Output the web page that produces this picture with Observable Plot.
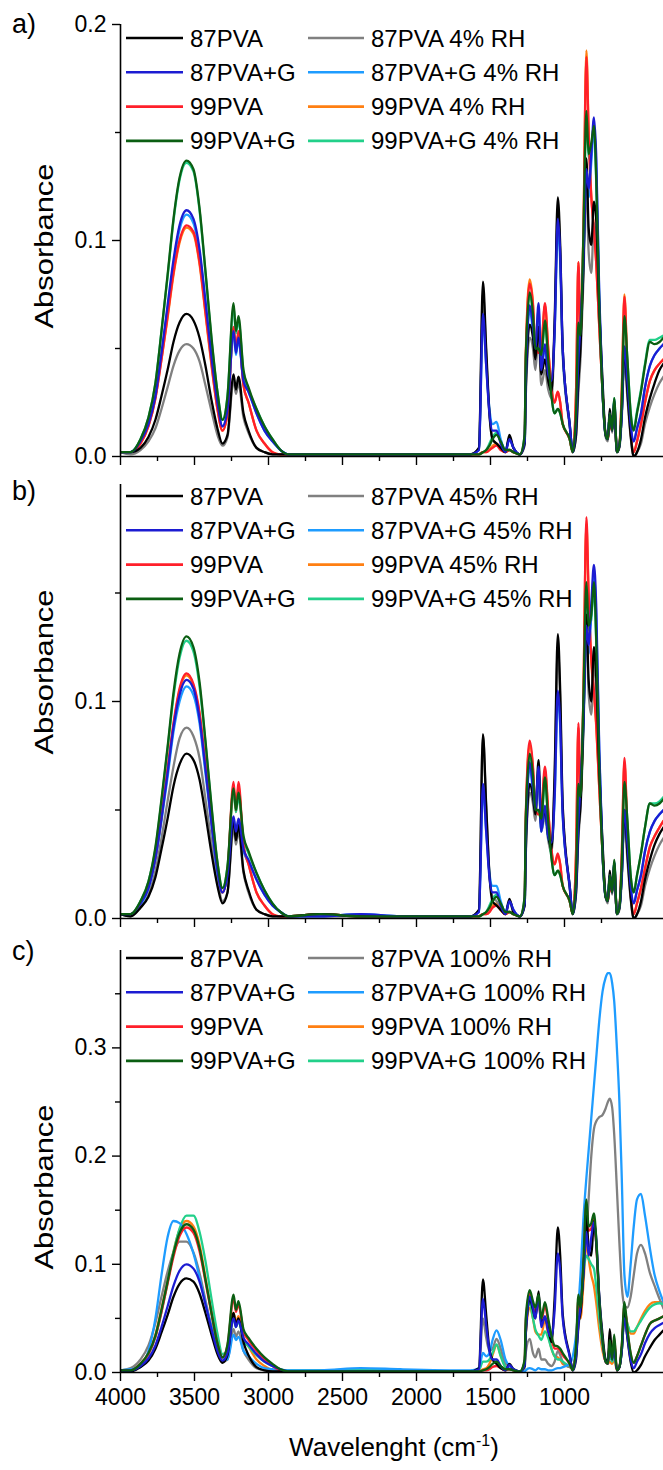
<!DOCTYPE html>
<html><head><meta charset="utf-8">
<script src="https://cdn.jsdelivr.net/npm/d3@7"></script>
<script src="https://cdn.jsdelivr.net/npm/@observablehq/plot@0.6"></script>
<style>
body{margin:0;background:#fff;}
#wrap{position:relative;width:663px;height:1470px;overflow:hidden;font-family:"Liberation Sans",Arial,sans-serif;}
#wrap > svg, #wrap > figure{position:absolute;left:0;margin:0;}
</style></head><body><div id="wrap"></div>
<script>
// Wavenumber grid (cm^-1), as read against the figure's own x axis
const wn = [4000,3932,3865,3811,3764,3723,3682,3642,3601,3554,
3507,3466,3426,3385,3345,3311,3277,3236,3220,3203,
3169,3135,3081,3027,2973,2919,2865,2649,2378,2108,
1637,1578,1551,1529,1507,1486,1459,1431,1399,1372,
1345,1301,1269,1262,1235,1213,1197,1175,1157,1132,
1110,1088,1067,1045,1029,1012,965,944,922,906,
892,873,852,837,819,801,786,765,743,722,
707,694,678,664,646,629,613,595,575,553,
532,510,483,456,423,391,358,331];

const names = ["87PVA","87PVA+G","99PVA","99PVA+G"];
const rhLabels = ["4% RH","45% RH","100% RH"];
const xMajor = [4000,3500,3000,2500,2000,1500,1000];
const xMinor = [3750,3250,2750,2250,1750,1250,750];

// ---- panel a) ----
const A_87PVA = [0.002,0.002,0.004,0.009,0.017,0.028,0.040,0.053,0.062,0.066,
0.063,0.055,0.042,0.026,0.013,0.006,0.010,0.038,0.031,0.037,
0.020,0.012,0.004,0.002,0.001,0.001,0.001,0.001,0.001,0.001,
0.001,0.004,0.081,0.050,0.020,0.008,0.006,0.004,0.002,0.010,
0.004,0.001,0.006,0.030,0.061,0.055,0.045,0.060,0.038,0.045,
0.035,0.030,0.062,0.120,0.098,0.050,0.015,0.002,0.010,0.035,
0.050,0.085,0.138,0.106,0.098,0.118,0.110,0.068,0.035,0.010,
0.008,0.022,0.012,0.024,0.002,0.005,0.020,0.050,0.030,0.010,
0.000,0.002,0.008,0.018,0.027,0.034,0.040,0.043];
const A_87PVA_G = [0.002,0.002,0.007,0.015,0.028,0.048,0.070,0.091,0.107,0.114,
0.110,0.096,0.072,0.046,0.025,0.014,0.022,0.058,0.048,0.055,
0.035,0.030,0.020,0.012,0.007,0.003,0.001,0.001,0.001,0.001,
0.001,0.003,0.066,0.042,0.020,0.012,0.012,0.006,0.002,0.008,
0.004,0.001,0.007,0.035,0.070,0.060,0.050,0.071,0.040,0.052,
0.038,0.035,0.058,0.110,0.094,0.050,0.015,0.002,0.015,0.045,
0.060,0.090,0.133,0.124,0.140,0.157,0.140,0.075,0.030,0.010,
0.008,0.020,0.012,0.026,0.002,0.005,0.020,0.051,0.035,0.015,
0.007,0.013,0.020,0.032,0.042,0.047,0.050,0.052];
const A_99PVA = [0.002,0.002,0.006,0.014,0.027,0.045,0.065,0.085,0.100,0.107,
0.104,0.090,0.067,0.043,0.022,0.012,0.020,0.060,0.050,0.058,
0.033,0.025,0.012,0.006,0.002,0.001,0.001,0.001,0.001,0.001,
0.001,0.001,0.002,0.002,0.003,0.004,0.005,0.003,0.002,0.003,
0.002,0.001,0.008,0.045,0.080,0.070,0.050,0.048,0.050,0.071,
0.050,0.032,0.025,0.030,0.025,0.015,0.008,0.002,0.030,0.090,
0.055,0.100,0.185,0.150,0.120,0.105,0.090,0.060,0.030,0.010,
0.008,0.015,0.012,0.025,0.002,0.005,0.030,0.074,0.040,0.012,
0.002,0.007,0.015,0.025,0.035,0.040,0.043,0.045];
const A_99PVA_G = [0.002,0.002,0.008,0.018,0.034,0.058,0.084,0.110,0.129,0.137,
0.133,0.115,0.086,0.055,0.030,0.017,0.028,0.071,0.058,0.065,
0.040,0.032,0.022,0.014,0.008,0.003,0.001,0.001,0.001,0.001,
0.001,0.001,0.002,0.003,0.005,0.008,0.010,0.007,0.003,0.003,
0.002,0.001,0.010,0.045,0.076,0.066,0.050,0.050,0.047,0.063,
0.045,0.028,0.020,0.022,0.020,0.015,0.008,0.002,0.020,0.062,
0.056,0.100,0.160,0.140,0.145,0.153,0.130,0.070,0.030,0.010,
0.008,0.020,0.012,0.027,0.002,0.005,0.025,0.065,0.045,0.020,
0.012,0.020,0.030,0.042,0.053,0.052,0.053,0.055];
const A_87PVA_RH = [0.002,0.001,0.003,0.007,0.013,0.022,0.032,0.042,0.049,0.052,
0.050,0.044,0.033,0.021,0.010,0.005,0.009,0.035,0.029,0.034,
0.018,0.011,0.004,0.002,0.001,0.001,0.001,0.001,0.001,0.001,
0.001,0.004,0.076,0.047,0.019,0.008,0.006,0.004,0.002,0.009,
0.004,0.001,0.005,0.027,0.055,0.050,0.040,0.056,0.033,0.040,
0.031,0.027,0.058,0.115,0.094,0.047,0.014,0.002,0.009,0.030,
0.045,0.080,0.128,0.095,0.085,0.108,0.100,0.062,0.032,0.009,
0.007,0.020,0.011,0.022,0.002,0.004,0.018,0.045,0.027,0.009,
0.000,0.002,0.006,0.015,0.023,0.029,0.034,0.037];
const A_87PVA_G_RH = [0.002,0.002,0.007,0.015,0.028,0.047,0.068,0.089,0.105,0.112,
0.108,0.094,0.071,0.045,0.024,0.014,0.022,0.057,0.047,0.054,
0.035,0.030,0.020,0.012,0.007,0.003,0.001,0.001,0.001,0.001,
0.001,0.003,0.064,0.042,0.022,0.015,0.016,0.008,0.003,0.008,
0.004,0.001,0.007,0.034,0.068,0.058,0.050,0.068,0.042,0.050,
0.037,0.034,0.056,0.105,0.090,0.048,0.015,0.002,0.014,0.040,
0.058,0.088,0.130,0.120,0.136,0.152,0.136,0.073,0.030,0.010,
0.008,0.020,0.012,0.026,0.002,0.005,0.020,0.050,0.034,0.015,
0.007,0.013,0.020,0.032,0.042,0.047,0.050,0.052];
const A_99PVA_RH = [0.002,0.002,0.006,0.014,0.027,0.045,0.064,0.084,0.099,0.106,
0.103,0.089,0.066,0.042,0.022,0.012,0.020,0.059,0.049,0.057,
0.033,0.025,0.012,0.006,0.002,0.001,0.001,0.001,0.001,0.001,
0.001,0.001,0.002,0.002,0.003,0.005,0.006,0.004,0.002,0.003,
0.002,0.001,0.008,0.046,0.082,0.071,0.051,0.049,0.051,0.070,
0.050,0.032,0.025,0.030,0.025,0.015,0.008,0.002,0.030,0.090,
0.055,0.102,0.188,0.152,0.121,0.105,0.090,0.060,0.030,0.010,
0.008,0.015,0.012,0.025,0.002,0.005,0.031,0.075,0.041,0.012,
0.002,0.007,0.015,0.025,0.035,0.040,0.043,0.045];
const A_99PVA_G_RH = [0.002,0.002,0.008,0.018,0.034,0.058,0.083,0.109,0.128,0.136,
0.132,0.114,0.085,0.054,0.030,0.017,0.028,0.069,0.057,0.063,
0.039,0.031,0.022,0.014,0.008,0.003,0.001,0.001,0.001,0.001,
0.001,0.001,0.002,0.003,0.006,0.009,0.011,0.007,0.003,0.003,
0.002,0.001,0.010,0.044,0.074,0.065,0.050,0.050,0.046,0.062,
0.044,0.028,0.020,0.022,0.020,0.015,0.008,0.002,0.020,0.060,
0.055,0.098,0.158,0.138,0.143,0.151,0.128,0.069,0.030,0.010,
0.008,0.020,0.012,0.027,0.002,0.005,0.025,0.064,0.045,0.021,
0.013,0.021,0.031,0.043,0.054,0.054,0.055,0.056];

// ---- panel b) ----
const B_87PVA = [0.002,0.001,0.005,0.010,0.019,0.032,0.046,0.061,0.071,0.076,
0.073,0.064,0.048,0.030,0.015,0.007,0.012,0.045,0.036,0.043,
0.022,0.013,0.004,0.002,0.001,0.001,0.001,0.002,0.001,0.001,
0.001,0.004,0.085,0.052,0.020,0.008,0.006,0.004,0.002,0.009,
0.003,0.001,0.006,0.030,0.062,0.056,0.048,0.073,0.042,0.050,
0.038,0.032,0.066,0.131,0.105,0.052,0.015,0.002,0.012,0.040,
0.052,0.088,0.140,0.110,0.100,0.125,0.112,0.068,0.035,0.010,
0.008,0.022,0.012,0.024,0.002,0.005,0.020,0.050,0.030,0.010,
0.000,0.002,0.008,0.018,0.027,0.034,0.039,0.042];
const B_87PVA_G = [0.002,0.002,0.007,0.014,0.028,0.046,0.067,0.088,0.103,0.110,
0.106,0.092,0.069,0.044,0.022,0.012,0.020,0.047,0.040,0.046,
0.032,0.027,0.018,0.011,0.006,0.003,0.001,0.001,0.002,0.001,
0.001,0.003,0.062,0.040,0.019,0.012,0.012,0.006,0.002,0.008,
0.004,0.001,0.007,0.035,0.072,0.060,0.050,0.070,0.040,0.052,
0.038,0.035,0.056,0.105,0.090,0.048,0.015,0.002,0.015,0.045,
0.060,0.090,0.135,0.126,0.145,0.163,0.145,0.078,0.030,0.010,
0.008,0.020,0.012,0.026,0.002,0.005,0.020,0.050,0.035,0.015,
0.007,0.013,0.020,0.031,0.040,0.045,0.048,0.050];
const B_99PVA = [0.002,0.002,0.007,0.015,0.028,0.047,0.069,0.090,0.106,0.113,
0.108,0.095,0.071,0.045,0.023,0.012,0.022,0.063,0.050,0.063,
0.034,0.025,0.012,0.006,0.002,0.001,0.001,0.002,0.001,0.001,
0.001,0.001,0.002,0.002,0.003,0.005,0.006,0.004,0.002,0.003,
0.002,0.001,0.008,0.046,0.082,0.070,0.050,0.048,0.050,0.070,
0.050,0.032,0.025,0.030,0.025,0.015,0.008,0.002,0.030,0.090,
0.055,0.100,0.185,0.150,0.120,0.105,0.090,0.060,0.030,0.010,
0.008,0.015,0.012,0.025,0.002,0.005,0.030,0.074,0.040,0.012,
0.002,0.007,0.014,0.023,0.033,0.038,0.042,0.045];
const B_99PVA_G = [0.002,0.002,0.008,0.017,0.033,0.055,0.079,0.104,0.122,0.130,
0.125,0.109,0.082,0.052,0.026,0.014,0.024,0.060,0.050,0.058,
0.038,0.031,0.021,0.013,0.007,0.003,0.001,0.002,0.001,0.001,
0.001,0.001,0.002,0.003,0.005,0.008,0.010,0.007,0.003,0.003,
0.002,0.001,0.010,0.045,0.076,0.066,0.050,0.050,0.046,0.065,
0.045,0.028,0.020,0.022,0.020,0.015,0.008,0.002,0.020,0.062,
0.056,0.098,0.155,0.135,0.140,0.155,0.130,0.070,0.030,0.010,
0.008,0.020,0.012,0.027,0.002,0.005,0.025,0.063,0.045,0.020,
0.012,0.020,0.030,0.042,0.053,0.052,0.053,0.055];
const B_87PVA_RH = [0.002,0.001,0.005,0.011,0.022,0.037,0.054,0.070,0.083,0.088,
0.084,0.074,0.055,0.035,0.018,0.008,0.012,0.042,0.034,0.040,
0.021,0.012,0.004,0.002,0.001,0.001,0.001,0.001,0.001,0.001,
0.001,0.004,0.084,0.051,0.021,0.010,0.008,0.005,0.002,0.008,
0.003,0.001,0.006,0.028,0.058,0.053,0.045,0.068,0.040,0.047,
0.036,0.030,0.063,0.125,0.100,0.050,0.014,0.002,0.011,0.037,
0.050,0.084,0.133,0.104,0.094,0.118,0.106,0.064,0.033,0.010,
0.007,0.020,0.011,0.022,0.002,0.004,0.018,0.046,0.027,0.009,
0.000,0.002,0.006,0.015,0.023,0.029,0.034,0.037];
const B_87PVA_G_RH = [0.002,0.002,0.006,0.014,0.027,0.045,0.065,0.086,0.100,0.107,
0.103,0.090,0.067,0.043,0.021,0.012,0.020,0.046,0.039,0.045,
0.031,0.026,0.018,0.011,0.006,0.003,0.001,0.001,0.002,0.001,
0.001,0.003,0.060,0.040,0.021,0.015,0.015,0.008,0.003,0.008,
0.004,0.001,0.007,0.034,0.070,0.058,0.049,0.068,0.040,0.050,
0.037,0.034,0.054,0.102,0.088,0.047,0.015,0.002,0.014,0.042,
0.058,0.088,0.132,0.122,0.140,0.158,0.140,0.076,0.030,0.010,
0.008,0.020,0.012,0.026,0.002,0.005,0.020,0.049,0.034,0.015,
0.007,0.013,0.020,0.031,0.040,0.045,0.048,0.050];
const B_99PVA_RH = [0.002,0.002,0.007,0.015,0.028,0.047,0.068,0.089,0.105,0.112,
0.107,0.094,0.070,0.045,0.023,0.012,0.021,0.061,0.049,0.061,
0.033,0.025,0.012,0.006,0.002,0.001,0.001,0.002,0.001,0.001,
0.001,0.001,0.002,0.002,0.003,0.006,0.007,0.004,0.002,0.003,
0.002,0.001,0.008,0.045,0.080,0.069,0.050,0.048,0.049,0.068,
0.049,0.031,0.025,0.029,0.025,0.015,0.008,0.002,0.030,0.088,
0.055,0.100,0.182,0.148,0.118,0.104,0.089,0.060,0.030,0.010,
0.008,0.015,0.012,0.025,0.002,0.005,0.029,0.072,0.040,0.012,
0.002,0.007,0.014,0.023,0.033,0.038,0.042,0.045];
const B_99PVA_G_RH = [0.002,0.002,0.008,0.017,0.032,0.054,0.078,0.102,0.120,0.128,
0.123,0.107,0.081,0.051,0.026,0.014,0.024,0.058,0.049,0.056,
0.037,0.030,0.021,0.013,0.007,0.003,0.001,0.002,0.001,0.001,
0.001,0.001,0.002,0.003,0.006,0.009,0.011,0.007,0.003,0.003,
0.002,0.001,0.010,0.044,0.074,0.065,0.049,0.049,0.045,0.063,
0.044,0.028,0.020,0.022,0.020,0.015,0.008,0.002,0.020,0.060,
0.055,0.096,0.152,0.133,0.138,0.152,0.128,0.069,0.030,0.010,
0.008,0.020,0.012,0.026,0.002,0.005,0.025,0.062,0.045,0.020,
0.012,0.020,0.030,0.042,0.053,0.053,0.054,0.056];

// ---- panel c) ----
const C_87PVA = [0.002,0.001,0.005,0.011,0.022,0.037,0.053,0.070,0.082,0.087,
0.084,0.073,0.055,0.035,0.017,0.009,0.016,0.055,0.044,0.050,
0.028,0.016,0.005,0.002,0.001,0.001,0.001,0.001,0.001,0.001,
0.001,0.004,0.086,0.053,0.021,0.012,0.008,0.004,0.002,0.008,
0.003,0.001,0.006,0.034,0.068,0.058,0.050,0.075,0.045,0.051,
0.040,0.028,0.068,0.134,0.108,0.054,0.016,0.002,0.012,0.045,
0.055,0.090,0.145,0.115,0.108,0.140,0.120,0.070,0.035,0.012,
0.010,0.040,0.015,0.028,0.002,0.005,0.020,0.055,0.032,0.010,
0.000,0.002,0.007,0.015,0.023,0.030,0.035,0.039];
const C_87PVA_G = [0.002,0.002,0.006,0.013,0.025,0.042,0.061,0.080,0.094,0.100,
0.096,0.084,0.063,0.040,0.020,0.011,0.018,0.050,0.042,0.048,
0.032,0.026,0.017,0.010,0.006,0.003,0.001,0.001,0.001,0.001,
0.001,0.003,0.068,0.043,0.020,0.012,0.012,0.006,0.002,0.007,
0.003,0.001,0.007,0.035,0.070,0.060,0.050,0.071,0.042,0.052,
0.038,0.033,0.057,0.110,0.094,0.050,0.015,0.002,0.015,0.045,
0.060,0.090,0.130,0.108,0.125,0.139,0.125,0.070,0.030,0.010,
0.008,0.025,0.012,0.024,0.002,0.005,0.020,0.050,0.033,0.012,
0.004,0.010,0.017,0.027,0.036,0.041,0.044,0.046];
const C_99PVA = [0.002,0.002,0.008,0.017,0.033,0.056,0.082,0.107,0.126,0.134,
0.129,0.112,0.084,0.054,0.027,0.014,0.025,0.068,0.056,0.063,
0.038,0.030,0.020,0.012,0.006,0.002,0.001,0.001,0.001,0.001,
0.001,0.001,0.002,0.002,0.003,0.005,0.006,0.004,0.002,0.003,
0.002,0.001,0.010,0.046,0.073,0.063,0.055,0.066,0.047,0.062,
0.047,0.031,0.022,0.022,0.020,0.016,0.008,0.002,0.022,0.068,
0.057,0.097,0.155,0.131,0.133,0.142,0.121,0.066,0.030,0.010,
0.008,0.027,0.012,0.032,0.002,0.005,0.024,0.062,0.039,0.017,
0.009,0.015,0.025,0.035,0.045,0.048,0.050,0.052];
const C_99PVA_G = [0.002,0.002,0.008,0.018,0.034,0.058,0.084,0.110,0.129,0.137,
0.132,0.115,0.086,0.055,0.027,0.014,0.026,0.072,0.058,0.066,
0.040,0.032,0.022,0.014,0.008,0.003,0.001,0.001,0.001,0.001,
0.001,0.001,0.002,0.003,0.005,0.008,0.010,0.006,0.003,0.003,
0.002,0.001,0.012,0.050,0.076,0.066,0.060,0.072,0.050,0.065,
0.050,0.034,0.025,0.024,0.022,0.018,0.008,0.002,0.025,0.072,
0.060,0.100,0.160,0.135,0.138,0.147,0.125,0.068,0.030,0.010,
0.008,0.030,0.012,0.035,0.002,0.005,0.025,0.065,0.040,0.018,
0.009,0.015,0.025,0.035,0.045,0.048,0.050,0.052];
const C_87PVA_RH = [0.002,0.004,0.012,0.025,0.046,0.070,0.093,0.111,0.121,0.121,
0.111,0.092,0.067,0.042,0.021,0.010,0.012,0.040,0.033,0.038,
0.020,0.012,0.004,0.002,0.001,0.001,0.001,0.002,0.002,0.001,
0.001,0.003,0.050,0.032,0.020,0.022,0.031,0.022,0.008,0.006,
0.003,0.001,0.004,0.018,0.031,0.018,0.014,0.022,0.012,0.012,
0.008,0.006,0.010,0.020,0.016,0.010,0.005,0.006,0.020,0.040,
0.065,0.100,0.125,0.160,0.200,0.225,0.232,0.236,0.238,0.244,
0.250,0.253,0.245,0.220,0.170,0.120,0.080,0.062,0.060,0.070,
0.090,0.110,0.118,0.110,0.092,0.080,0.068,0.059];
const C_87PVA_G_RH = [0.002,0.003,0.005,0.020,0.050,0.090,0.125,0.140,0.138,0.128,
0.110,0.088,0.064,0.042,0.024,0.014,0.012,0.035,0.030,0.033,
0.020,0.015,0.008,0.004,0.003,0.002,0.002,0.002,0.004,0.003,
0.002,0.004,0.018,0.015,0.018,0.030,0.039,0.030,0.012,0.006,
0.003,0.001,0.001,0.002,0.004,0.003,0.002,0.004,0.003,0.003,
0.002,0.002,0.003,0.004,0.004,0.005,0.008,0.015,0.035,0.060,
0.090,0.140,0.180,0.205,0.235,0.265,0.290,0.325,0.352,0.365,
0.369,0.369,0.360,0.343,0.300,0.250,0.180,0.090,0.070,0.100,
0.135,0.160,0.165,0.145,0.115,0.090,0.075,0.065];
const C_99PVA_RH = [0.002,0.002,0.008,0.018,0.035,0.059,0.085,0.112,0.132,0.140,
0.135,0.118,0.088,0.056,0.028,0.013,0.020,0.055,0.046,0.052,
0.032,0.024,0.012,0.006,0.002,0.001,0.001,0.001,0.002,0.001,
0.001,0.001,0.003,0.004,0.008,0.016,0.025,0.016,0.005,0.003,
0.002,0.001,0.008,0.035,0.060,0.050,0.038,0.035,0.035,0.048,
0.035,0.022,0.015,0.014,0.012,0.008,0.005,0.004,0.020,0.060,
0.050,0.080,0.120,0.105,0.090,0.080,0.065,0.040,0.020,0.010,
0.008,0.010,0.008,0.012,0.002,0.005,0.022,0.058,0.045,0.036,
0.036,0.042,0.050,0.057,0.063,0.065,0.065,0.065];
const C_99PVA_G_RH = [0.002,0.002,0.008,0.017,0.033,0.056,0.083,0.111,0.133,0.145,
0.145,0.130,0.103,0.068,0.036,0.017,0.020,0.050,0.042,0.047,
0.030,0.024,0.016,0.010,0.006,0.003,0.002,0.002,0.003,0.002,
0.001,0.002,0.010,0.010,0.012,0.018,0.026,0.015,0.005,0.003,
0.002,0.001,0.010,0.040,0.065,0.050,0.040,0.034,0.030,0.038,
0.032,0.022,0.015,0.012,0.012,0.010,0.006,0.005,0.020,0.050,
0.060,0.090,0.108,0.105,0.100,0.096,0.080,0.050,0.025,0.012,
0.010,0.015,0.010,0.015,0.003,0.005,0.020,0.055,0.045,0.038,
0.038,0.042,0.048,0.054,0.060,0.063,0.064,0.063];

// ---- styling ----
const colDry = ["#000000","#1c1cd2","#ff1f2a","#0b5e12"];
const colRH  = ["#808080","#1e9cff","#ff7f12","#22d08a"];
const FONT = "'Liberation Sans', Arial, sans-serif";

const panelDefs = [
  {label:"a)", rh:rhLabels[0], dry:[A_87PVA,A_87PVA_G,A_99PVA,A_99PVA_G], wet:[A_87PVA_RH,A_87PVA_G_RH,A_99PVA_RH,A_99PVA_G_RH],
   top:0, height:470, mt:24, mb:14, ymax:0.2, yMajor:[0,0.1,0.2], yMinor:[0.05,0.15], xLabels:false,
   labelY:33, titleY:246, legTop:38},
  {label:"b)", rh:rhLabels[1], dry:[B_87PVA,B_87PVA_G,B_99PVA,B_99PVA_G], wet:[B_87PVA_RH,B_87PVA_G_RH,B_99PVA_RH,B_99PVA_G_RH],
   top:470, height:462, mt:14, mb:14, ymax:0.2, yMajor:[0,0.1], yMinor:[0.05,0.15], xLabels:false,
   labelY:500, titleY:672, legTop:496},
  {label:"c)", rh:rhLabels[2], dry:[C_87PVA,C_87PVA_G,C_99PVA,C_99PVA_G], wet:[C_87PVA_RH,C_87PVA_G_RH,C_99PVA_RH,C_99PVA_G_RH],
   top:932, height:538, mt:18, mb:98, ymax:0.39, yMajor:[0,0.1,0.2,0.3], yMinor:[0.05,0.15,0.25,0.35], xLabels:true,
   labelY:960, titleY:1187, legTop:958}
];

const wrap = document.getElementById("wrap");
const toRows = (arr) => wn.map((w, i) => ({wn: w, abs: arr[i]}));
// draw order: humid series first, dry series on top
const order = [
  {set:"wet", i:2},{set:"wet", i:0},{set:"wet", i:3},{set:"wet", i:1},
  {set:"dry", i:2},{set:"dry", i:0},{set:"dry", i:1},{set:"dry", i:3}
];

for (const p of panelDefs) {
  const lines = order.map(o => Plot.line(toRows(p[o.set][o.i]), {
    x: "wn", y: "abs", curve: "monotone-x", clip: true,
    stroke: (o.set === "dry" ? colDry : colRH)[o.i], strokeWidth: 2.3
  }));
  const chart = Plot.plot({
    width: 663, height: p.height,
    marginLeft: 120, marginRight: 0, marginTop: p.mt, marginBottom: p.mb,
    x: {domain: [4000, 331], range: [120, 663]},
    y: {domain: [0, p.ymax]},
    style: {fontFamily: FONT, fontSize: "23px", color: "#000", background: "transparent", overflow: "visible"},
    marks: [
      ...lines,
      Plot.axisY({ticks: p.yMajor, tickSize: 8, tickPadding: 6, tickFormat: d => d.toFixed(1), fontSize: 23, strokeWidth: 1.4, label: null}),
      Plot.axisY({ticks: p.yMinor, tickSize: 5, tickFormat: () => "", strokeWidth: 1.4, label: null}),
      Plot.axisX({ticks: xMajor, tickSize: 9, tickPadding: 7, tickFormat: p.xLabels ? (d => String(d)) : (() => ""), fontSize: 23, strokeWidth: 1.4, label: null}),
      Plot.axisX({ticks: xMinor, tickSize: 5, tickFormat: () => "", strokeWidth: 1.4, label: null}),
      Plot.ruleX([4000], {strokeWidth: 1.6}),
      Plot.ruleY([0], {strokeWidth: 1.6})
    ]
  });
  chart.style.top = p.top + "px";
  wrap.appendChild(chart);
}

// overlay: panel letters, axis titles and legends
const NS = "http://www.w3.org/2000/svg";
const ov = document.createElementNS(NS, "svg");
ov.setAttribute("width", 663); ov.setAttribute("height", 1470);
ov.style.top = "0px"; ov.style.pointerEvents = "none";
ov.setAttribute("font-family", "Liberation Sans, Arial, sans-serif");
wrap.appendChild(ov);
function txt(x, y, s, size, attrs = {}) {
  const t = document.createElementNS(NS, "text");
  t.setAttribute("x", x); t.setAttribute("y", y);
  t.setAttribute("font-size", size); t.setAttribute("fill", "#000");
  for (const k in attrs) t.setAttribute(k, attrs[k]);
  t.textContent = s; ov.appendChild(t); return t;
}
function seg(x1, x2, y, color) {
  const l = document.createElementNS(NS, "line");
  l.setAttribute("x1", x1); l.setAttribute("x2", x2);
  l.setAttribute("y1", y); l.setAttribute("y2", y);
  l.setAttribute("stroke", color); l.setAttribute("stroke-width", 2.6);
  ov.appendChild(l);
}
for (const p of panelDefs) {
  txt(12, p.labelY, p.label, 27);
  txt(0, 0, "Absorbance", 26, {"text-anchor": "middle", transform: `translate(53,${p.titleY}) rotate(-90)`,
    textLength: 165, lengthAdjust: "spacingAndGlyphs"});
  for (let r = 0; r < 4; r++) {
    const y = p.legTop + r * 34.3;
    seg(126, 183, y, colDry[r]);
    txt(190, y + 8.5, names[r], 24);
    seg(308, 364, y, colRH[r]);
    txt(371, y + 8.5, names[r] + " " + p.rh, 24);
  }
}
// x-axis title with superscript
const xt = document.createElementNS(NS, "text");
xt.setAttribute("x", 394); xt.setAttribute("y", 1456); xt.setAttribute("font-size", 26);
xt.setAttribute("text-anchor", "middle");
xt.innerHTML = 'Wavelenght (cm<tspan dy="-10" font-size="16">-1</tspan><tspan dy="10">)</tspan>';
ov.appendChild(xt);
</script></body></html>
